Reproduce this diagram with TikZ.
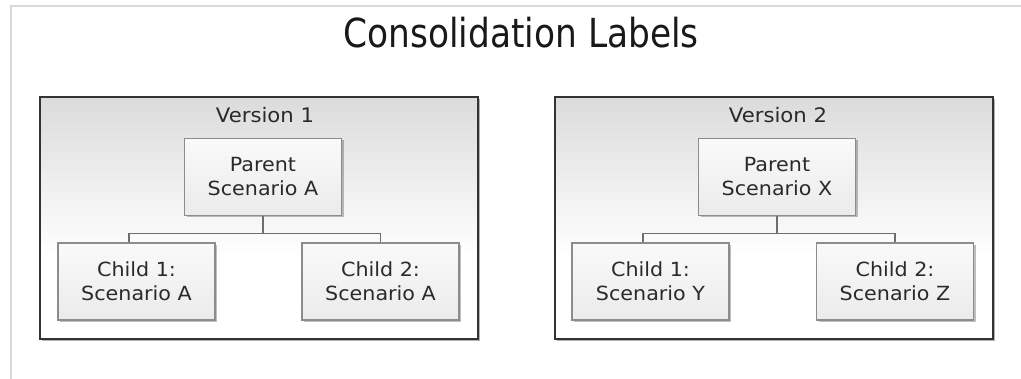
\documentclass[tikz,border=0pt]{standalone}
\usepackage{fontspec}
\setmainfont[FakeStretch=1.06]{DejaVu Sans}
\newfontfamily\titlefont[FakeStretch=0.86]{DejaVu Sans}
\usetikzlibrary{shadows}
\pgfdeclareverticalshading{panelshade}{100bp}{color(0bp)=(white); color(42bp)=(white); color(75bp)=(black!14); color(100bp)=(black!14)}
\definecolor{framegray}{HTML}{333333}
\definecolor{boxgray}{HTML}{8C8C8C}
\definecolor{linegray}{HTML}{6E6E6E}
\definecolor{pagegray}{HTML}{D9D9D9}
\definecolor{textgray}{HTML}{2A2A2A}
\tikzset{
  panel/.style={draw=framegray, line width=2pt, shade, shading=panelshade,
    minimum width=438pt, minimum height=242pt, inner sep=0pt,
    drop shadow={shadow xshift=2pt, shadow yshift=-2pt, opacity=0.3, fill=black}},
  itembox/.style={draw=boxgray, line width=1.3pt, top color=black!2, bottom color=black!8,
    minimum width=157pt, minimum height=77pt, inner sep=0pt, align=center,
    text=textgray, font=\fontsize{19.5}{24}\selectfont,
    drop shadow={shadow xshift=2pt, shadow yshift=-2pt, opacity=0.25, fill=black}},
  paneltitle/.style={anchor=base, text=textgray, font=\fontsize{20}{24}\selectfont},
  conn/.style={draw=linegray, line width=1.2pt},
  pageline/.style={draw=pagegray, line width=2pt}
}
\begin{document}
\begin{tikzpicture}[x=1pt,y=-1pt]
\useasboundingbox (0,0) rectangle (1021,379);
\coordinate (pgtr) at (1021,6.5);
\coordinate (pgtl) at (10.5,6.5);
\coordinate (pgbl) at (10.5,379);
\draw[pageline] (pgtr) -- (pgtl) -- (pgbl);
\node[anchor=base, text=black!90, font=\titlefont\fontsize{40}{44}\selectfont] (title) at (521,48) {Consolidation Labels};

% Version 1
\node[panel] (v1) at (259,218) {};
\node[paneltitle] (v1t) at (265,123) {Version 1};
\node[itembox] (p1) at (263,177) {Parent\\Scenario A};
\node[itembox] (a1) at (136.5,281.5) {Child 1:\\Scenario A};
\node[itembox] (a2) at (380.5,281.5) {Child 2:\\Scenario A};
\draw[conn] (p1.south) -- ++(0,17) coordinate (j1);
\draw[conn] (j1) -| ([xshift=-7.5pt]a1.north);
\draw[conn] (j1) -| (a2.north);

% Version 2
\node[panel] (v2) at (774,218) {};
\node[paneltitle] (v2t) at (778,123) {Version 2};
\node[itembox] (p2) at (777,177) {Parent\\Scenario X};
\node[itembox] (b1) at (650.5,281.5) {Child 1:\\Scenario Y};
\node[itembox] (b2) at (895,281.5) {Child 2:\\Scenario Z};
\draw[conn] (p2.south) -- ++(0,17) coordinate (j2);
\draw[conn] (j2) -| ([xshift=-7.5pt]b1.north);
\draw[conn] (j2) -| (b2.north);
\end{tikzpicture}
\end{document}
